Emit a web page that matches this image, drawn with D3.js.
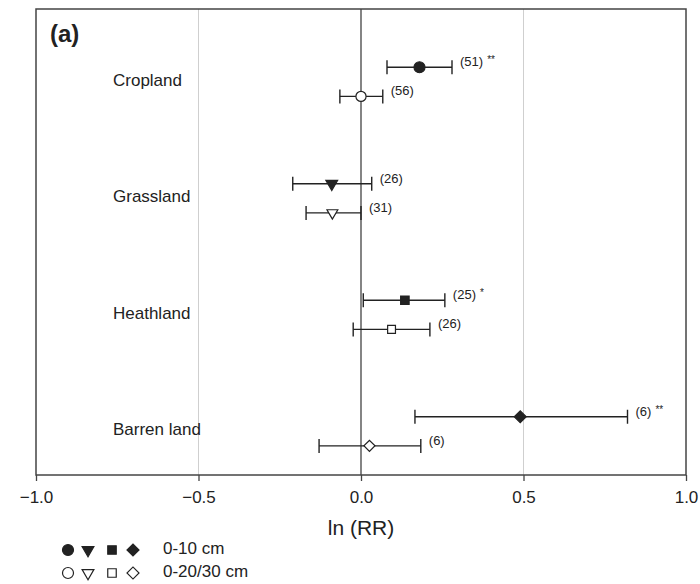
<!DOCTYPE html>
<html>
<head>
<meta charset="utf-8">
<script src="https://cdn.jsdelivr.net/npm/d3@7"></script>
<style>
  body { margin: 0; background: #fff; }
  svg { display: block; font-family: "Liberation Sans", Arial, sans-serif; }
</style>
</head>
<body>
<svg id="chart" width="700" height="584"></svg>
<script>
(function () {
    'use strict';

    // land-use classes, top to bottom
    const categories = ["Cropland", "Grassland", "Heathland", "Barren land"];

    // 0-10 cm (filled symbols)
    const topMean = [0.18, -0.09, 0.135, 0.49];
    const topLow  = [0.08, -0.21, 0.007, 0.166];
    const topHigh = [0.28, 0.033, 0.258, 0.82];
    const topN    = [51, 26, 25, 6];
    const topSig  = ["**", "", "*", "**"];

    // 0-20/30 cm (open symbols)
    const deepMean = [0.0, -0.088, 0.094, 0.026];
    const deepLow  = [-0.065, -0.169, -0.024, -0.129];
    const deepHigh = [0.067, 0.0, 0.212, 0.184];
    const deepN    = [56, 31, 26, 6];
    const deepSig  = ["", "", "", ""];

    const xTicks = [-1.0, -0.5, 0.0, 0.5, 1.0];
    const gridValues = [-0.5, 0.5];
    const legendLabels = ["0-10 cm", "0-20/30 cm"];

    // circle, down triangle, square, diamond (square turned 45deg)
    const shapes = [d3.symbolCircle, d3.symbolTriangle, d3.symbolSquare, d3.symbolSquare];
    const shapeSize = [95, 60, 72, 72];
    const shapeRotate = [0, 180, 0, 45];

    const margin = {left: 36, right: 14, top: 9, bottom: 109};
    const width = 700, height = 584;
    const ink = "#222";

    const svg = d3.select("#chart");

    const x = d3.scaleLinear()
        .domain([-1, 1])
        .range([margin.left, width - margin.right]);

    const y = d3.scaleBand()
        .domain(categories)
        .range([margin.top, height - margin.bottom]);

    const rowGap = y.bandwidth() * 0.25;

    // rows: one per category per depth
    const rows = [];
    categories.forEach((c, i) => {
        rows.push({cat: c, i: i, mean: topMean[i], lo: topLow[i], hi: topHigh[i],
            n: topN[i], sig: topSig[i], filled: true, yy: y(c) + y.bandwidth() / 2});
        rows.push({cat: c, i: i, mean: deepMean[i], lo: deepLow[i], hi: deepHigh[i],
            n: deepN[i], sig: deepSig[i], filled: false, yy: y(c) + y.bandwidth() / 2 + rowGap});
    });

    // grid lines
    svg.append("g")
        .selectAll("line")
        .data(gridValues)
        .join("line")
        .attr("x1", d => x(d)).attr("x2", d => x(d))
        .attr("y1", margin.top).attr("y2", height - margin.bottom)
        .attr("stroke", "#cfcfcf")
        .attr("stroke-width", 1);

    svg.append("line")
        .attr("x1", x(0)).attr("x2", x(0))
        .attr("y1", margin.top).attr("y2", height - margin.bottom)
        .attr("stroke", "#333")
        .attr("stroke-width", 1.2);

    // x axis
    const axis = svg.append("g")
        .attr("transform", `translate(0,${height - margin.bottom})`)
        .call(d3.axisBottom(x).tickValues(xTicks).tickFormat(d3.format(".1f"))
            .tickSize(6).tickPadding(10));
    axis.select(".domain").remove();
    axis.selectAll(".tick line").attr("stroke", "#444").attr("stroke-width", 1.3);
    axis.selectAll(".tick text")
        .attr("fill", ink)
        .style("font-size", "17px");

    // frame
    svg.append("rect")
        .attr("x", margin.left).attr("y", margin.top)
        .attr("width", width - margin.left - margin.right)
        .attr("height", height - margin.top - margin.bottom)
        .attr("fill", "none")
        .attr("stroke", "#444")
        .attr("stroke-width", 1.5);

    // category labels
    svg.append("g")
        .selectAll("text")
        .data(categories)
        .join("text")
        .attr("x", 113)
        .attr("y", d => y(d) + y.bandwidth() / 2 + 14)
        .attr("dominant-baseline", "middle")
        .attr("fill", ink)
        .style("font-size", "17px")
        .text(d => d);

    // error bars
    const bars = svg.append("g")
        .attr("stroke", ink)
        .attr("stroke-width", 1.4)
        .selectAll("g")
        .data(rows)
        .join("g");

    bars.append("line")
        .attr("x1", d => x(d.lo)).attr("x2", d => x(d.hi))
        .attr("y1", d => d.yy).attr("y2", d => d.yy);
    bars.append("line")
        .attr("x1", d => x(d.lo)).attr("x2", d => x(d.lo))
        .attr("y1", d => d.yy - 7).attr("y2", d => d.yy + 7);
    bars.append("line")
        .attr("x1", d => x(d.hi)).attr("x2", d => x(d.hi))
        .attr("y1", d => d.yy - 7).attr("y2", d => d.yy + 7);

    // markers
    svg.append("g")
        .selectAll("path")
        .data(rows)
        .join("path")
        .attr("d", d => d3.symbol().type(shapes[d.i]).size(d.filled ? shapeSize[d.i] : shapeSize[d.i] * 0.85)())
        .attr("transform", d => `translate(${x(d.mean)},${d.yy}) rotate(${shapeRotate[d.i]})`)
        .attr("fill", d => d.filled ? ink : "#fff")
        .attr("stroke", ink)
        .attr("stroke-width", 1.2);

    // sample sizes
    const lbl = svg.append("g")
        .selectAll("text")
        .data(rows)
        .join("text")
        .attr("x", d => x(d.hi) + 8)
        .attr("y", d => d.yy - 4)
        .attr("dominant-baseline", "middle")
        .attr("fill", ink)
        .style("font-size", "13px");
    lbl.append("tspan").text(d => `(${d.n})`);
    lbl.append("tspan")
        .attr("dx", 4)
        .attr("dy", -3)
        .style("font-size", "10px")
        .text(d => d.sig);

    // panel tag
    svg.append("text")
        .attr("x", 50).attr("y", 42)
        .attr("fill", ink)
        .style("font-size", "24px")
        .style("font-weight", "bold")
        .text("(a)");

    // axis title
    svg.append("text")
        .attr("x", x(0)).attr("y", 535)
        .attr("text-anchor", "middle")
        .attr("fill", ink)
        .style("font-size", "21px")
        .text("ln (RR)");

    // legend
    const legendX = [68, 88, 112, 133];
    const legendY = [550, 573];
    const leg = svg.append("g");
    legendY.forEach((ly, r) => {
        leg.append("g")
            .selectAll("path")
            .data(shapes)
            .join("path")
            .attr("d", (s, i) => d3.symbol().type(s).size(shapeSize[i])())
            .attr("transform", (s, i) => `translate(${legendX[i]},${ly}) rotate(${shapeRotate[i]})`)
            .attr("fill", r === 0 ? ink : "#fff")
            .attr("stroke", ink)
            .attr("stroke-width", 1.2);
        leg.append("text")
            .attr("x", 163).attr("y", ly)
            .attr("dominant-baseline", "middle")
            .attr("fill", ink)
            .style("font-size", "17px")
            .text(legendLabels[r]);
    });
}());
</script>
</body>
</html>
